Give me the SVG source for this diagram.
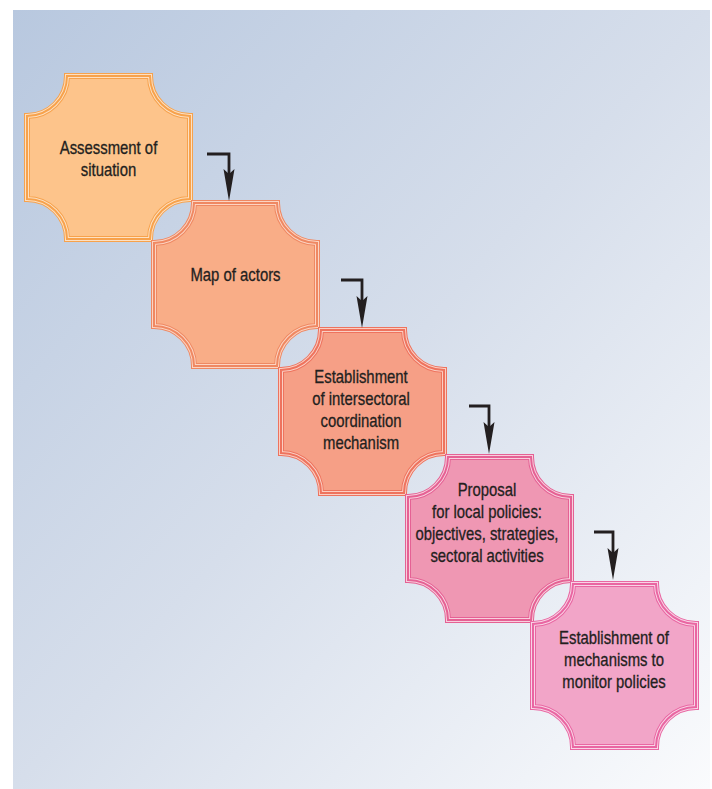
<svg xmlns="http://www.w3.org/2000/svg" xmlns:xlink="http://www.w3.org/1999/xlink" width="712" height="789" viewBox="0 0 712 789">
<defs>
<linearGradient id="bg" x1="0" y1="0" x2="1" y2="1">
<stop offset="0" stop-color="#b8c8df"/>
<stop offset="0.5" stop-color="#d6deeb"/>
<stop offset="1" stop-color="#fafbfd"/>
</linearGradient>
<path id="shape" d="M43,3 H126 A40,40 0 0 0 166,43 V126 A40,40 0 0 0 126,166 H43 A40,40 0 0 0 3,126 V43 A40,40 0 0 0 43,3 Z"/>
<marker id="head" markerUnits="userSpaceOnUse" viewBox="-34 -7 36 14" refX="-20" refY="0" markerWidth="36" markerHeight="14" orient="auto">
<path d="M0,0 L-32,-5.5 L-27,0 L-32,5.5 Z" fill="#231f20"/>
</marker>
<style>
.o{stroke-width:6}
.m{fill:none;stroke-width:4}
.i{fill:none;stroke-width:2}
.t{font-family:"Liberation Sans",Arial,sans-serif;font-size:17.5px;fill:#231f20;stroke:#231f20;stroke-width:0.3;text-anchor:middle}
.c1 .o{fill:#fdc48b;stroke:#f7a24c}.c1 .m{stroke:#fde0c2}.c1 .i{stroke:#f7a24c}
.c2 .o{fill:#f9ad87;stroke:#ef8862}.c2 .m{stroke:#fcd4c2}.c2 .i{stroke:#ef8862}
.c3 .o{fill:#f69f86;stroke:#ee735e}.c3 .m{stroke:#fbcfc3}.c3 .i{stroke:#ee735e}
.c4 .o{fill:#ef97b3;stroke:#e56194}.c4 .m{stroke:#f8cfdd}.c4 .i{stroke:#e56194}
.c5 .o{fill:#f2a5c8;stroke:#e966a2}.c5 .m{stroke:#f9d4e6}.c5 .i{stroke:#e966a2}
.arr{fill:none;stroke:#231f20;stroke-width:2.8;marker-end:url(#head)}
</style>
</defs>
<rect x="13" y="10" width="697" height="779" fill="url(#bg)"/>
<g id="node1" class="c1">
<g transform="translate(24,73)"><use href="#shape" class="o"/><use href="#shape" class="m"/><use href="#shape" class="i"/></g>
<g transform="translate(108.5,0) scale(0.85,1)"><text class="t" x="0" y="154">Assessment of</text><text class="t" x="0" y="176">situation</text></g>
</g>
<g id="node2" class="c2">
<g transform="translate(151,200)"><use href="#shape" class="o"/><use href="#shape" class="m"/><use href="#shape" class="i"/></g>
<g transform="translate(235.5,0) scale(0.85,1)"><text class="t" x="0" y="281">Map of actors</text></g>
</g>
<g id="node3" class="c3">
<g transform="translate(278,327)"><use href="#shape" class="o"/><use href="#shape" class="m"/><use href="#shape" class="i"/></g>
<g transform="translate(361,0) scale(0.85,1)"><text class="t" x="0" y="383">Establishment</text><text class="t" x="0" y="405">of intersectoral</text><text class="t" x="0" y="427">coordination</text><text class="t" x="0" y="449">mechanism</text></g>
</g>
<g id="node4" class="c4">
<g transform="translate(405,454)"><use href="#shape" class="o"/><use href="#shape" class="m"/><use href="#shape" class="i"/></g>
<g transform="translate(487,0) scale(0.85,1)"><text class="t" x="0" y="496.5">Proposal</text><text class="t" x="0" y="518">for local policies:</text><text class="t" x="0" y="540">objectives, strategies,</text><text class="t" x="0" y="562">sectoral activities</text></g>
</g>
<g id="node5" class="c5">
<g transform="translate(530,581)"><use href="#shape" class="o"/><use href="#shape" class="m"/><use href="#shape" class="i"/></g>
<g transform="translate(614,0) scale(0.85,1)"><text class="t" x="0" y="644">Establishment of</text><text class="t" x="0" y="666">mechanisms to</text><text class="t" x="0" y="688">monitor policies</text></g>
</g>
<g id="connectors">
<path class="arr" d="M207,154 H229 V181"/>
<path class="arr" d="M341,280 H362 V308"/>
<path class="arr" d="M469,406 H489 V434"/>
<path class="arr" d="M594,532 H613 V560"/>
</g>
</svg>
